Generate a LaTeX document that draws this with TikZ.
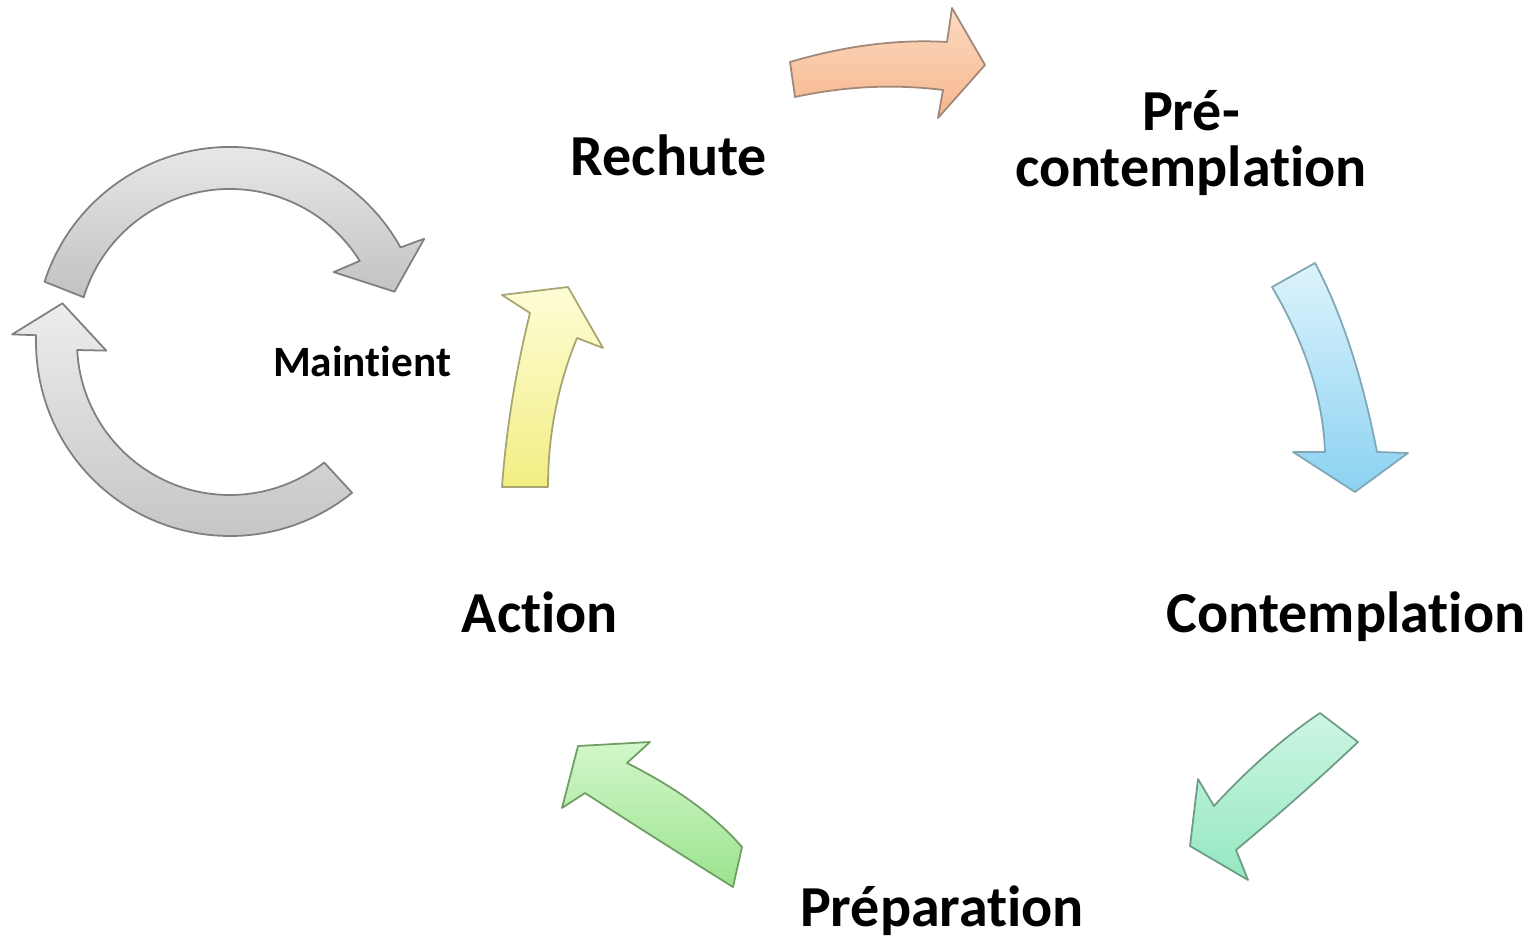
\documentclass[tikz,border=0pt]{standalone}
\usepackage{fontspec}
\setmainfont{Carlito}[Ligatures=NoCommon]
\definecolor{orline}{HTML}{A08878}
\definecolor{ortop}{HTML}{FDDAC2}
\definecolor{orbot}{HTML}{F6B68C}
\definecolor{blline}{HTML}{7FA7B5}
\definecolor{bltop}{HTML}{DDF3FC}
\definecolor{blbot}{HTML}{8BD2F2}
\definecolor{mnline}{HTML}{6C9C86}
\definecolor{mntop}{HTML}{CDF6E3}
\definecolor{mnbot}{HTML}{95E7C0}
\definecolor{gnline}{HTML}{6E9E64}
\definecolor{gntop}{HTML}{D2F6CA}
\definecolor{gnbot}{HTML}{9BE48E}
\definecolor{yeline}{HTML}{A8A572}
\definecolor{yetop}{HTML}{FDFDD6}
\definecolor{yebot}{HTML}{F2EE83}
\definecolor{grline}{HTML}{7F7F7F}
\definecolor{grtop}{HTML}{EDEDED}
\definecolor{grbot}{HTML}{C2C2C2}
\tikzset{
  blk/.style n args={3}{draw=#1, top color=#2, bottom color=#3, line width=0.5pt, line join=round},
  lbl/.style={font=\bfseries\fontsize{16.5}{16.2}\selectfont, anchor=base, inner sep=0pt, align=center},
  lbls/.style={font=\bfseries\fontsize{12.3}{14}\selectfont, anchor=base, inner sep=0pt}
}

\begin{document}
\begin{tikzpicture}[x=0.01cm,y=-0.01cm]
  \useasboundingbox (0,0) rectangle (1533,937);
  \coordinate (gc) at (230,342);
  \draw[blk={grline}{grtop}{grbot}]
   ([shift={(-162:195)}]gc) arc[start angle=-162,end angle=-29,radius=195] --
   ([shift={(-28:220)}]gc) -- ([shift={(-17:172)}]gc) -- ([shift={(-34:125)}]gc) --
   ([shift={(-32:153)}]gc) arc[start angle=-32,end angle=-163,radius=153] -- cycle;
  \draw[blk={grline}{grtop}{grbot}]
   ([shift={(51:194)}]gc) arc[start angle=51,end angle=182,radius=194] --
   ([shift={(182:218)}]gc) -- ([shift={(193:172)}]gc) -- ([shift={(176:124)}]gc) --
   ([shift={(177:153)}]gc) arc[start angle=177,end angle=52,radius=153] -- cycle;
  \draw[blk={orline}{ortop}{orbot}] (790,62) .. controls (844,46) and (897,39) .. (947,42) --
   (952,8) -- (985,65) -- (938,118) -- (943,90) .. controls (895,84) and (846,86) .. (795,97) -- cycle;
  \draw[blk={blline}{bltop}{blbot}] (1272,287) .. controls (1305,343) and (1323,398) .. (1325,452) --
   (1293,452) -- (1355,492) -- (1408,453) -- (1377,452) .. controls (1362,375) and (1341,312) .. (1315,263) -- cycle;
  \draw[blk={mnline}{mntop}{mnbot}] (1320,713) .. controls (1283,738) and (1248,769) .. (1214,806) --
   (1198,779) -- (1190,846) -- (1248,880) -- (1236,850) .. controls (1278,815) and (1319,779) .. (1358,742) -- cycle;
  \draw[blk={gnline}{gntop}{gnbot}] (742,847) .. controls (715,816) and (677,788) .. (627,763) --
   (650,742) -- (578,746) -- (562,808) -- (585,793) .. controls (636,826) and (685,857) .. (733,887) -- cycle;
  \draw[blk={yeline}{yetop}{yebot}] (502,487) .. controls (506,432) and (515,374) .. (530,313) --
   (502,295) -- (568,287) -- (603,348) -- (577,338) .. controls (557,387) and (548,437) .. (548,487) -- cycle;
  \node[lbl] (rechute) at (669,176) {Rechute};
  \node[lbl] (precont) at (1191,187) {Pré-\\contemplation};
  \node[lbl] (contemp) at (1346,633) {Contemplation};
  \node[lbl] (prepa) at (942,926) {Préparation};
  \node[lbl] (action) at (540,633) {Action};
  \node[lbls] (maint) at (362,377) {Maintient};
\end{tikzpicture}
\end{document}
